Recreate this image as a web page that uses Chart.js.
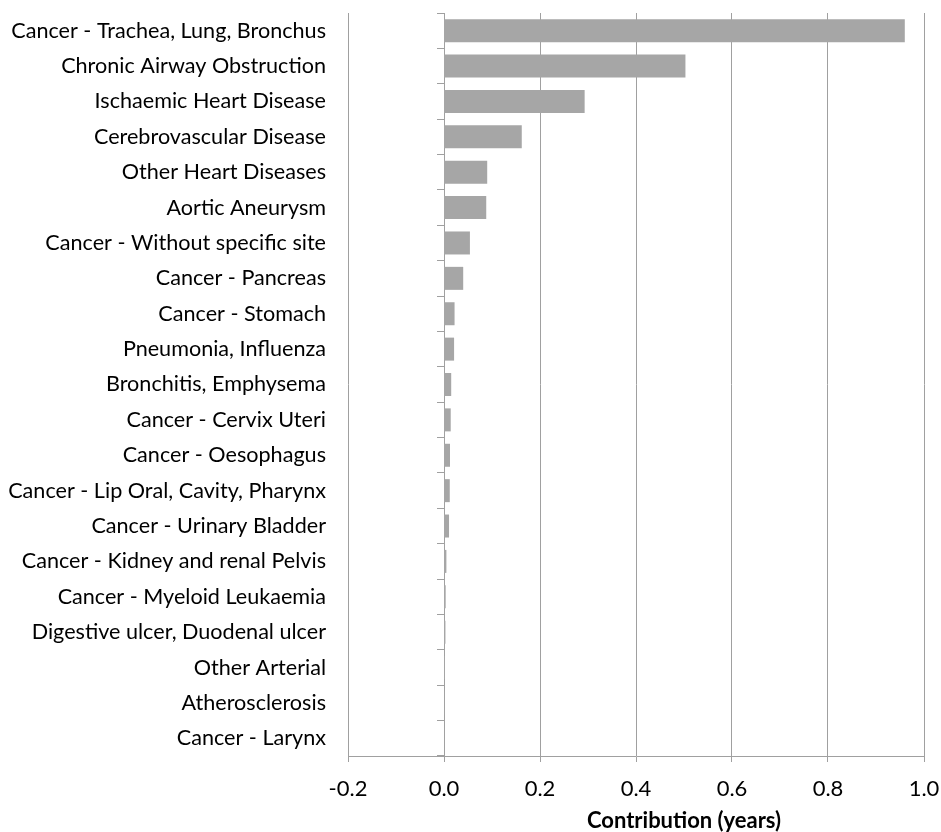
<!DOCTYPE html>
<html>
<head>
<meta charset="utf-8">
<script src="https://cdn.jsdelivr.net/npm/chart.js@4/dist/chart.umd.min.js"></script>
<style>
  html, body { margin: 0; padding: 0; background: #ffffff; }
  #wrap { width: 941px; height: 832px; position: relative; }
</style>
</head>
<body>
<div id="wrap"><canvas id="c"></canvas></div>
<script>
const categories = [
  "Cancer - Trachea, Lung, Bronchus",
  "Chronic Airway Obstruction",
  "Ischaemic Heart Disease",
  "Cerebrovascular Disease",
  "Other Heart Diseases",
  "Aortic Aneurysm",
  "Cancer - Without specific site",
  "Cancer - Pancreas",
  "Cancer - Stomach",
  "Pneumonia, Influenza",
  "Bronchitis, Emphysema",
  "Cancer - Cervix Uteri",
  "Cancer - Oesophagus",
  "Cancer - Lip Oral, Cavity, Pharynx",
  "Cancer - Urinary Bladder",
  "Cancer - Kidney and renal Pelvis",
  "Cancer - Myeloid Leukaemia",
  "Digestive ulcer, Duodenal ulcer",
  "Other Arterial",
  "Atherosclerosis",
  "Cancer - Larynx"
];
const contributions = [
  0.960, 0.503, 0.293, 0.162, 0.090, 0.088, 0.054, 0.040, 0.022, 0.021,
  0.015, 0.014, 0.0125, 0.012, 0.0105, 0.005, 0.0035, 0.003, 0.002, 0.001, 0.0005
];
const xTickMin = -0.2;
const xTickMax = 1.0;
const xTickStep = 0.2;
const xAxisTitle = "Contribution (years)";

const FONT = "Lato";
const GRID = "#a0a0a0";

const axisTitlePlugin = {
  id: "axisTitlePlugin",
  afterDraw(chart) {
    const xs = chart.scales.x;
    const ctx = chart.ctx;
    const cx = (xs.getPixelForValue(0) + xs.getPixelForValue(xTickMax)) / 2;
    ctx.save();
    ctx.font = "bold 22px " + FONT;
    ctx.fillStyle = "#000000";
    ctx.textAlign = "center";
    ctx.textBaseline = "middle";
    ctx.fillText(xAxisTitle, cx, xs.bottom - 11);
    ctx.restore();
  }
};

new Chart(document.getElementById("c"), {
  type: "bar",
  data: {
    labels: categories,
    datasets: [{
      data: contributions,
      backgroundColor: "#a6a6a6",
      borderWidth: 0,
      barPercentage: 0.65,
      categoryPercentage: 1.0,
      yAxisID: "y"
    }]
  },
  plugins: [axisTitlePlugin],
  options: {
    indexAxis: "y",
    responsive: true,
    maintainAspectRatio: false,
    animation: false,
    layout: { padding: { left: 0, right: 17, top: 13, bottom: 0 } },
    plugins: { legend: { display: false }, tooltip: { enabled: false } },
    scales: {
      x: {
        type: "linear",
        min: xTickMin,
        max: xTickMax,
        ticks: {
          stepSize: xTickStep,
          color: "#000000",
          font: { family: FONT, size: 22 },
          padding: 14,
          callback: v => (Math.abs(v) < 1e-9 ? 0 : Number(v)).toFixed(1)
        },
        grid: { color: GRID, lineWidth: 1, drawTicks: true, tickLength: 6 },
        border: { display: true, color: GRID, width: 1 },
        title: { display: false },
        afterFit: s => { s.height = 76; s.paddingLeft = 0; s.paddingRight = 0; }
      },
      y: {
        type: "category",
        position: "left",
        offset: true,
        ticks: {
          color: "#000000",
          font: { family: FONT, size: 21.6 },
          padding: 22,
          autoSkip: false
        },
        grid: { display: false, drawTicks: false },
        border: { display: false },
        afterFit: s => { s.width = 348; s.paddingTop = 0; s.paddingBottom = 0; }
      },
      y2: {
        type: "category",
        axis: "y",
        position: { x: 0 },
        offset: true,
        ticks: { display: false, autoSkip: false },
        grid: { offset: true, drawOnChartArea: false, drawTicks: true, tickLength: 7, color: GRID, lineWidth: 1 },
        border: { display: true, color: GRID, width: 1 },
        afterFit: s => { s.paddingTop = 0; s.paddingBottom = 0; }
      }
    }
  }
});
</script>
</body>
</html>
